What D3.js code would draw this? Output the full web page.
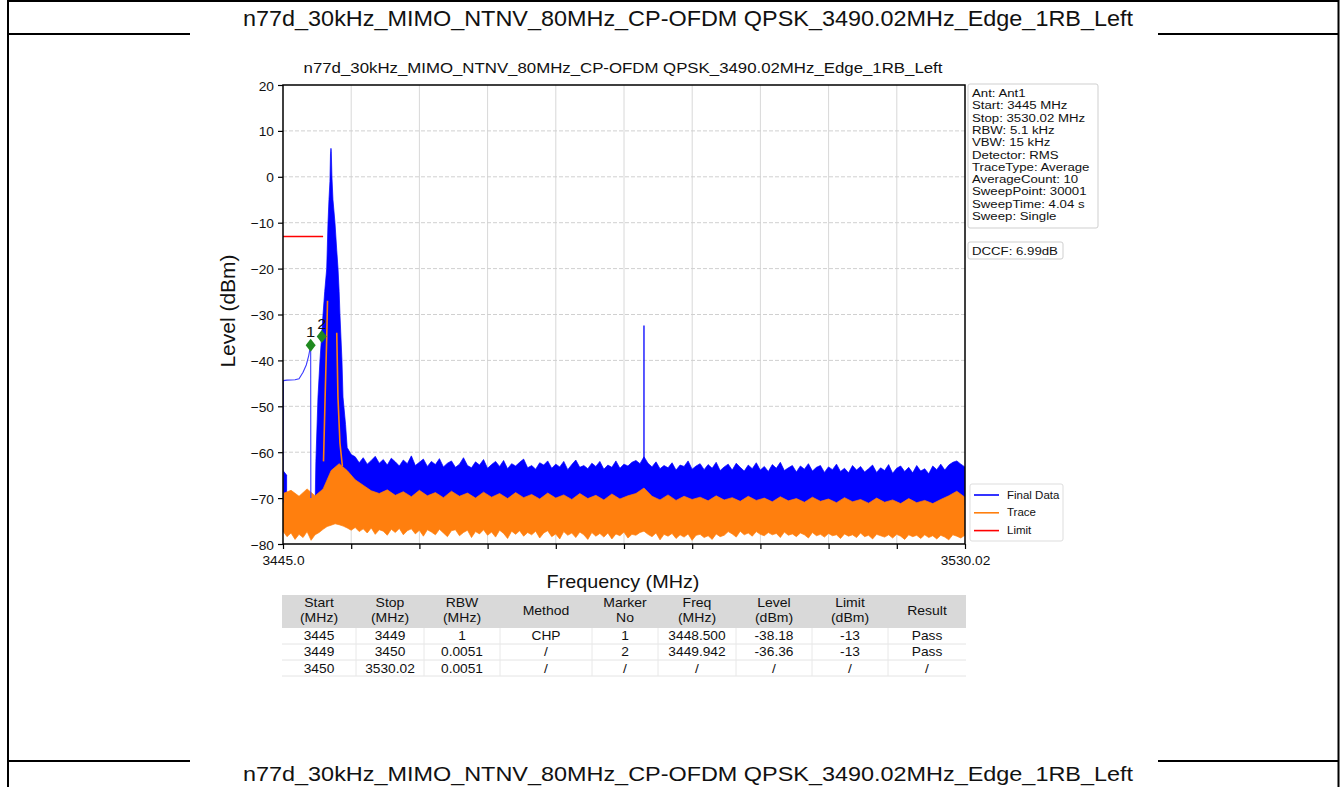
<!DOCTYPE html>
<html><head><meta charset="utf-8">
<script src="https://cdn.jsdelivr.net/npm/d3@7"></script>
<style>body{margin:0;background:#fff} svg{display:block} text{font-family:"Liberation Sans",Arial,sans-serif;fill:#111}</style>
</head><body><svg id="c" width="1340" height="787"></svg>
<script>
// ---------------- data ----------------
const pageTitle = "n77d_30kHz_MIMO_NTNV_80MHz_CP-OFDM QPSK_3490.02MHz_Edge_1RB_Left";
const chartTitle = "n77d_30kHz_MIMO_NTNV_80MHz_CP-OFDM QPSK_3490.02MHz_Edge_1RB_Left";
const xDomain = [3445, 3530.02];
const yTicks = [20, 10, 0, -10, -20, -30, -40, -50, -60, -70, -80];
const xTickLabels = ["3445.0", "", "", "", "", "", "", "", "", "", "3530.02"];

// Final Data: carrier envelope (upper edge)
const peakFreq = [3449.0, 3449.1, 3449.36, 3449.61, 3449.8, 3449.99, 3450.2, 3450.45, 3450.61, 3450.73, 3450.85, 3450.92, 3450.98, 3451.02, 3451.1, 3451.23, 3451.48, 3451.7, 3451.86, 3452.0, 3452.1, 3452.35, 3452.48, 3452.8];
const peakHi = [-72, -62, -48, -40, -35, -30, -25, -20, -10, -5, -1, 5, 6.2, 5.5, 0, -5, -10, -16, -20, -25, -30, -40, -48, -54];
const peakLo = [-72, -71, -71, -71, -71, -71, -71, -71, -71, -71, -71, -71, -71, -71, -71, -71, -71, -71, -71, -71, -71, -71, -71, -71];

// Final Data noise band: upper edge on a 0.5 MHz grid from 3453, lower edge on a 1 MHz grid from 3453
const blueHiStart = 3453, blueHiStep = 0.5;
const blueHi = [
  -59, -60.5, -61, -62.3, -61.2, -62.6, -61.8, -60.9, -62.4, -61.6,
  -62.8, -61.3, -62.1, -63.0, -61.7, -62.5, -60.8, -62.9, -62.2, -61.5,
  -63.1, -62.0, -62.7, -61.4, -63.2, -62.4, -61.9, -63.3, -62.6, -61.2,
  -62.9, -63.4, -62.1, -62.8, -61.6, -63.5, -62.7, -62.0, -63.1, -61.8,
  -63.6, -62.5, -63.0, -62.2, -61.5, -63.4, -62.9, -63.7, -62.3, -62.8,
  -61.9, -63.5, -62.6, -63.2, -62.0, -63.8, -62.7, -61.7, -63.3, -62.9,
  -63.6, -62.4, -63.1, -62.0, -63.7, -62.8, -63.3, -61.9, -63.5, -62.6,
  -63.0, -62.2, -61.8, -62.5, -61.0, -62.4, -63.2, -62.1, -63.6, -62.9,
  -63.4, -62.3, -63.9, -62.8, -63.1, -61.9, -63.7, -63.0, -62.5, -63.8,
  -62.7, -63.5, -62.2, -64.0, -63.2, -62.6, -63.9, -62.4, -63.3, -64.1,
  -62.8, -63.6, -62.3, -63.9, -63.1, -64.2, -62.7, -63.5, -62.2, -64.0,
  -63.4, -62.9, -64.3, -63.0, -63.7, -62.5, -64.1, -63.3, -62.9, -64.4,
  -63.2, -63.8, -62.6, -64.2, -63.5, -64.5, -62.9, -63.9, -63.1, -64.3,
  -63.6, -62.8, -64.4, -63.4, -64.0, -62.7, -64.6, -63.5, -63.0, -64.2,
  -63.3, -64.5, -62.9, -64.1, -63.6, -64.7, -63.0, -63.8, -62.6, -63.9,
  -62.8, -62.2, -61.9, -62.6, -63.2];
const blueLoStart = 3453, blueLoStep = 1;
const blueLo = [-70.2, -69.8, -70.5, -70.1, -70.8, -70.3, -70.6, -70.0, -70.9, -70.4,
  -70.7, -70.2, -71.0, -70.5, -70.8, -70.3, -71.1, -70.6, -70.9, -70.4,
  -71.0, -70.6, -71.2, -70.7, -70.9, -70.5, -71.3, -70.8, -71.0, -70.6,
  -71.2, -70.7, -71.0, -70.8, -71.3, -70.9, -70.5, -70.2, -71.1, -70.9,
  -71.4, -70.8, -71.2, -70.9, -71.5, -71.0, -71.2, -70.9, -71.6, -71.1,
  -71.3, -71.0, -71.6, -71.1, -71.4, -71.0, -71.7, -71.2, -71.5, -71.1,
  -71.8, -71.3, -71.5, -71.2, -71.9, -71.4, -71.6, -71.2, -71.8, -71.5,
  -71.7, -71.3, -71.9, -71.4, -71.6, -71.2, -70.8, -71.5];

// Final Data start stub and channel-power (CHP) line in 3445..3449
const stubFreq = [3445.0, 3445.45];
const stubHi = [-64, -65];
const stubLo = [-71, -71];
const chpFreq = [3445.0, 3445.05, 3445.5, 3446.5, 3447.0, 3447.5, 3447.9, 3448.2, 3448.45, 3448.47];
const chpLevel = [-71, -44.4, -44.3, -44.2, -44.0, -42.6, -41.0, -39.0, -36.7, -70];

// Spur at the channel centre
const spurFreq = 3490.0;
const spurLevel = [-64, -32.4];

// Trace (orange) noise band: upper edge 1 MHz grid from 3445, lower edge 0.5 MHz grid from 3445
const orangeHiStart = 3445, orangeHiStep = 1;
const orangeHi = [-69.0, -68.3, -69.6, -68.0, -69.5, -68.0, -64.0, -62.5, -64.0, -66.0,
  -67.2, -68.4, -69.0, -68.2, -69.4, -68.6, -69.7, -68.3, -69.5, -68.8,
  -69.9, -68.5, -69.6, -68.9, -70.0, -68.7, -69.8, -69.0, -70.1, -68.8,
  -69.9, -69.2, -70.2, -68.9, -70.0, -69.3, -70.3, -69.0, -70.1, -69.4,
  -70.4, -69.1, -70.2, -69.5, -69.0, -67.8, -69.6, -70.4, -69.3, -70.5,
  -69.6, -70.3, -69.8, -70.6, -69.5, -70.4, -69.9, -70.7, -69.6, -70.5,
  -70.0, -70.8, -69.7, -70.6, -70.1, -70.9, -69.8, -70.7, -70.2, -71.0,
  -69.9, -70.8, -70.3, -71.1, -70.0, -70.9, -70.4, -71.2, -70.1, -71.0,
  -70.5, -71.2, -70.3, -69.5, -68.5, -69.8];
const orangeLoStart = 3445, orangeLoStep = 0.5;
const orangeLo = [
  -77.2, -78.4, -77.6, -79.0, -77.9, -78.6, -77.3, -79.2, -78.0, -77.5,
  -76.8, -76.2, -75.9, -75.6, -75.8, -76.1, -76.5, -77.0, -76.4, -77.3,
  -76.7, -77.6, -76.5, -77.9, -76.9, -77.2, -78.1, -76.8, -77.5, -76.6,
  -78.0, -77.1, -76.7, -77.8, -77.0, -78.3, -76.9, -77.4, -78.0, -76.8,
  -77.6, -78.4, -77.1, -76.9, -78.2, -77.5, -77.0, -78.6, -77.3, -77.8,
  -76.9, -78.1, -77.4, -78.5, -77.0, -77.7, -78.8, -77.2, -77.9, -77.1,
  -78.3, -77.5, -78.0, -77.2, -78.7, -77.6, -77.1, -78.4, -77.8, -78.9,
  -77.3, -78.1, -77.6, -78.6, -77.4, -78.0, -79.0, -77.5, -78.3, -77.7,
  -78.5, -77.6, -78.9, -77.8, -78.2, -77.4, -78.7, -77.9, -78.1, -77.5,
  -77.2, -77.9, -78.4, -77.6, -79.1, -77.9, -78.3, -77.7, -78.8, -78.0,
  -78.5, -77.8, -79.2, -78.1, -77.9, -78.6, -78.2, -79.0, -77.8, -78.4,
  -78.1, -77.3, -77.8, -78.5, -77.2, -78.0, -77.6, -78.3, -77.3, -77.9,
  -78.2, -77.5, -78.0, -77.7, -78.6, -77.4, -78.1, -77.8, -78.4, -77.6,
  -78.0, -78.7, -77.5, -78.2, -77.9, -78.5, -77.7, -78.2, -78.0, -78.8,
  -77.8, -78.3, -78.0, -78.6, -77.6, -78.4, -78.1, -78.9, -77.9, -78.2,
  -78.5, -78.0, -78.7, -77.9, -78.3, -79.0, -78.0, -78.4, -78.1, -78.8,
  -78.0, -78.6, -78.2, -78.9, -78.1, -78.5, -79.1, -78.0, -78.3, -78.7,
  -78.1];
// Trace edges visible inside the carrier
const tracePeakLFreq = [3450.05, 3450.25, 3450.45, 3450.55];
const tracePeakL = [-62, -48, -35, -27];
const tracePeakRFreq = [3451.7, 3451.85, 3452.1, 3452.4];
const tracePeakR = [-34, -48, -58, -63];

// Limit
const limitFreq = [3445, 3450];
const limitLevel = [-13, -13];

// Markers (as plotted)
const markerNo = ["1", "2"];
const markerFreq = [3448.45, 3449.83];
const markerLevel = [-36.7, -34.8];

// Info text
const infoLines = ["Ant: Ant1", "Start: 3445 MHz", "Stop: 3530.02 MHz", "RBW: 5.1 kHz", "VBW: 15 kHz", "Detector: RMS", "TraceType: Average", "AverageCount: 10", "SweepPoint: 30001", "SweepTime: 4.04 s", "Sweep: Single"];
const dccfText = "DCCF: 6.99dB";
const legendNames = ["Final Data", "Trace", "Limit"];
const legendColors = ["#0000ff", "#ff7f0e", "#ff0000"];

// Result table
const tableHeader = [["Start", "(MHz)"], ["Stop", "(MHz)"], ["RBW", "(MHz)"], ["Method"], ["Marker", "No"], ["Freq", "(MHz)"], ["Level", "(dBm)"], ["Limit", "(dBm)"], ["Result"]];
const tableRows = [
  ["3445", "3449", "1", "CHP", "1", "3448.500", "-38.18", "-13", "Pass"],
  ["3449", "3450", "0.0051", "/", "2", "3449.942", "-36.36", "-13", "Pass"],
  ["3450", "3530.02", "0.0051", "/", "/", "/", "/", "/", "/"]
];

// ---------------- drawing ----------------
const SX = 1.2;
const svg = d3.select("#c");
const W = 1340, H = 787;
const L = 283, R = 965, T = 85, B = 544;
const x = d3.scaleLinear(xDomain, [L, R]);
const y = d3.scaleLinear([-80, 20], [B, T]);

function stretch(sel, sx = SX) {
  sel.each(function () {
    const t = d3.select(this);
    const tx = +t.attr("x") || 0, ty = +t.attr("y") || 0;
    const extra = t.attr("data-rot") ? ` rotate(${t.attr("data-rot")})` : "";
    t.attr("x", 0).attr("y", 0).attr("transform", `translate(${tx},${ty}) scale(${sx},1)${extra}`);
  });
}

// page frame (document table)
const bl = "#000";
svg.append("line").attr("x1", 8).attr("x2", 1339).attr("y1", 1).attr("y2", 1).attr("stroke", bl).attr("stroke-width", 2);
svg.append("line").attr("x1", 8).attr("x2", 8).attr("y1", 0).attr("y2", H).attr("stroke", bl).attr("stroke-width", 2);
svg.append("line").attr("x1", 1338.5).attr("x2", 1338.5).attr("y1", 0).attr("y2", H).attr("stroke", bl).attr("stroke-width", 2);
[[8, 190], [1158, 1339]].forEach(([a, b]) => {
  svg.append("line").attr("x1", a).attr("x2", b).attr("y1", 34).attr("y2", 34).attr("stroke", bl).attr("stroke-width", 2);
  svg.append("line").attr("x1", a).attr("x2", b).attr("y1", 761).attr("y2", 761).attr("stroke", bl).attr("stroke-width", 2);
});
svg.append("text").attr("x", 688).attr("y", 26).attr("text-anchor", "middle").style("font-size", "22px")
  .attr("textLength", 890).attr("lengthAdjust", "spacingAndGlyphs").text(pageTitle);
svg.append("text").attr("x", 688).attr("y", 781).attr("text-anchor", "middle").style("font-size", "21px")
  .attr("textLength", 890).attr("lengthAdjust", "spacingAndGlyphs").text(pageTitle);

// chart title
svg.append("text").attr("x", 623).attr("y", 73).attr("text-anchor", "middle").style("font-size", "14.5px").text(chartTitle).call(stretch, 1.16);

// grid
const g = svg.append("g");
const xTickVals = xTickLabels.map((_, i) => xDomain[0] + i * (xDomain[1] - xDomain[0]) / (xTickLabels.length - 1));
g.selectAll(".vg").data(xTickVals.slice(1, -1)).join("line")
  .attr("x1", d => x(d)).attr("x2", d => x(d)).attr("y1", T).attr("y2", B)
  .attr("stroke", "#d8d8d8").attr("stroke-width", 1);
g.selectAll(".hg").data(yTicks.slice(1, -1)).join("line")
  .attr("x1", L).attr("x2", R).attr("y1", d => y(d)).attr("y2", d => y(d))
  .attr("stroke", "#d0d0d0").attr("stroke-width", 1).attr("stroke-dasharray", "4,2");

// clip
svg.append("clipPath").attr("id", "pc").append("rect").attr("x", L).attr("y", T).attr("width", R - L).attr("height", B - T);
const pg = svg.append("g").attr("clip-path", "url(#pc)");

const line = d3.line().x(d => x(d.f)).y(d => y(d.v));
const area = d3.area().x(d => x(d.f)).y0(d => y(d.lo)).y1(d => y(d.hi));
const poly = (upper, lower) => line(upper.concat(lower.slice().reverse())) + "Z";
const BLUE = "#0000ff", ORANGE = "#ff7f0e";

// Final Data band
const blueUpper = peakFreq.map((f, i) => ({ f, v: peakHi[i] }))
  .concat(blueHi.map((v, i) => ({ f: blueHiStart + i * blueHiStep, v })));
const blueLower = peakFreq.map((f, i) => ({ f, v: peakLo[i] }))
  .concat(blueLo.map((v, i) => ({ f: blueLoStart + i * blueLoStep, v })));
pg.append("path").attr("d", poly(blueUpper, blueLower)).attr("fill", BLUE).attr("stroke", BLUE).attr("stroke-width", 0.7).attr("stroke-linejoin", "round");
pg.append("path").datum(stubFreq.map((f, i) => ({ f, hi: stubHi[i], lo: stubLo[i] }))).attr("d", area).attr("fill", BLUE).attr("stroke", BLUE).attr("stroke-width", 0.8);

// Trace band
const orangeUpper = orangeHi.map((v, i) => ({ f: orangeHiStart + i * orangeHiStep, v }));
const orangeLower = orangeLo.map((v, i) => ({ f: orangeLoStart + i * orangeLoStep, v }));
pg.append("path").attr("d", poly(orangeUpper, orangeLower)).attr("fill", ORANGE).attr("stroke", ORANGE).attr("stroke-width", 0.7).attr("stroke-linejoin", "round");
pg.append("path").datum(tracePeakLFreq.map((f, i) => ({ f, v: tracePeakL[i] }))).attr("d", line).attr("fill", "none").attr("stroke", ORANGE).attr("stroke-width", 1.6);
pg.append("path").datum(tracePeakRFreq.map((f, i) => ({ f, v: tracePeakR[i] }))).attr("d", line).attr("fill", "none").attr("stroke", ORANGE).attr("stroke-width", 1.6);

// CHP line + spur
pg.append("path").datum(chpFreq.map((f, i) => ({ f, v: chpLevel[i] }))).attr("d", line).attr("fill", "none").attr("stroke", "#3a3aff").attr("stroke-width", 1.1);
pg.append("path").datum(spurLevel.map(v => ({ f: spurFreq, v }))).attr("d", line).attr("fill", "none").attr("stroke", BLUE).attr("stroke-width", 1.3);

// limit
pg.append("path").datum(limitFreq.map((f, i) => ({ f, v: limitLevel[i] }))).attr("d", line).attr("fill", "none").attr("stroke", "#ff0000").attr("stroke-width", 1.6);

// markers
const mk = svg.append("g");
markerFreq.forEach((f, i) => {
  mk.append("path").attr("d", "M0,-6.5L5,0L0,6.5L-5,0Z")
    .attr("transform", `translate(${x(f)},${y(markerLevel[i])})`)
    .attr("fill", "#1f8a1f");
  mk.append("text").attr("x", x(f)).attr("y", y(markerLevel[i]) - 8).attr("text-anchor", "middle")
    .style("font-size", "15px").text(markerNo[i]).call(stretch, 1.1);
});

// frame
svg.append("rect").attr("x", L).attr("y", T).attr("width", R - L).attr("height", B - T)
  .attr("fill", "none").attr("stroke", "#000").attr("stroke-width", 1.5);

// axes
const ax = svg.append("g").attr("transform", `translate(0,${B})`)
  .call(d3.axisBottom(x).tickValues(xTickVals).tickFormat((d, i) => xTickLabels[i]).tickSize(5).tickPadding(4));
const ay = svg.append("g").attr("transform", `translate(${L},0)`)
  .call(d3.axisLeft(y).tickValues(yTicks).tickFormat(d => d < 0 ? "\u2212" + Math.abs(d) : String(d)).tickSize(5).tickPadding(4));
[ax, ay].forEach(a => {
  a.select(".domain").remove();
  a.selectAll(".tick line").attr("stroke", "#000").attr("stroke-width", 1.2);
  a.selectAll("text").style("font-size", "13.5px").style("font-family", '"Liberation Sans",Arial,sans-serif').attr("fill", "#111");
});
ax.selectAll("text").each(function () { const t = d3.select(this); t.attr("y", +t.attr("y") + 12).attr("dy", null); }).call(stretch, 1.02);
ay.selectAll("text").each(function () { const t = d3.select(this); t.attr("y", 5).attr("dy", null); }).call(stretch, 1.02);

// axis labels
svg.append("text").attr("x", 623).attr("y", 588).attr("text-anchor", "middle").style("font-size", "18px").text("Frequency (MHz)").call(stretch, 1.1);
svg.append("text").attr("x", 235).attr("y", 311).attr("data-rot", -90).attr("text-anchor", "middle").style("font-size", "21px").text("Level (dBm)").call(stretch, 1);

// info box
svg.append("rect").attr("x", 968).attr("y", 84).attr("width", 130).attr("height", 144).attr("rx", 2)
  .attr("fill", "#fff").attr("stroke", "#cfcfcf");
infoLines.forEach((s, i) => {
  svg.append("text").attr("x", 972).attr("y", 97 + i * 12.3).style("font-size", "11.5px").text(s).call(stretch, 1.15);
});
svg.append("rect").attr("x", 968).attr("y", 242).attr("width", 95).attr("height", 17).attr("rx", 2)
  .attr("fill", "#fff").attr("stroke", "#cfcfcf");
svg.append("text").attr("x", 972).attr("y", 255).style("font-size", "11.5px").text(dccfText).call(stretch, 1.15);

// legend
svg.append("rect").attr("x", 970).attr("y", 484).attr("width", 93).attr("height", 57).attr("rx", 2)
  .attr("fill", "#fff").attr("stroke", "#dddddd");
legendNames.forEach((n, i) => {
  const yy = 495 + i * 17.8;
  svg.append("line").attr("x1", 974).attr("x2", 999).attr("y1", yy).attr("y2", yy).attr("stroke", legendColors[i]).attr("stroke-width", 1.6);
  svg.append("text").attr("x", 1007).attr("y", yy + 3.5).style("font-size", "10px").text(n).call(stretch, 1.15);
});

// table
const colEdges = [282, 356, 424, 500, 592, 658, 736, 812, 888, 966];
const tg = svg.append("g");
tg.append("rect").attr("x", 282).attr("y", 595).attr("width", 684).attr("height", 33).attr("fill", "#d9d9d9");
[644, 660, 676].forEach(yy => tg.append("line").attr("x1", 282).attr("x2", 966).attr("y1", yy).attr("y2", yy).attr("stroke", "#e4e4e4"));
colEdges.slice(1, -1).forEach(xx => tg.append("line").attr("x1", xx).attr("x2", xx).attr("y1", 628).attr("y2", 676).attr("stroke", "#e8e8e8"));
tableHeader.forEach((h, c) => {
  const cx = (colEdges[c] + colEdges[c + 1]) / 2;
  h.forEach((s, k) => {
    const yy = h.length === 1 ? 615 : 607 + k * 14.5;
    tg.append("text").attr("x", cx).attr("y", yy).attr("text-anchor", "middle").style("font-size", "12.5px").text(s).call(stretch, 1.12);
  });
});
tableRows.forEach((r, ri) => {
  r.forEach((s, c) => {
    const cx = (colEdges[c] + colEdges[c + 1]) / 2;
    tg.append("text").attr("x", cx).attr("y", 640 + ri * 16.3).attr("text-anchor", "middle").style("font-size", "12.5px").text(s).call(stretch, 1.1);
  });
});
</script></body></html>
